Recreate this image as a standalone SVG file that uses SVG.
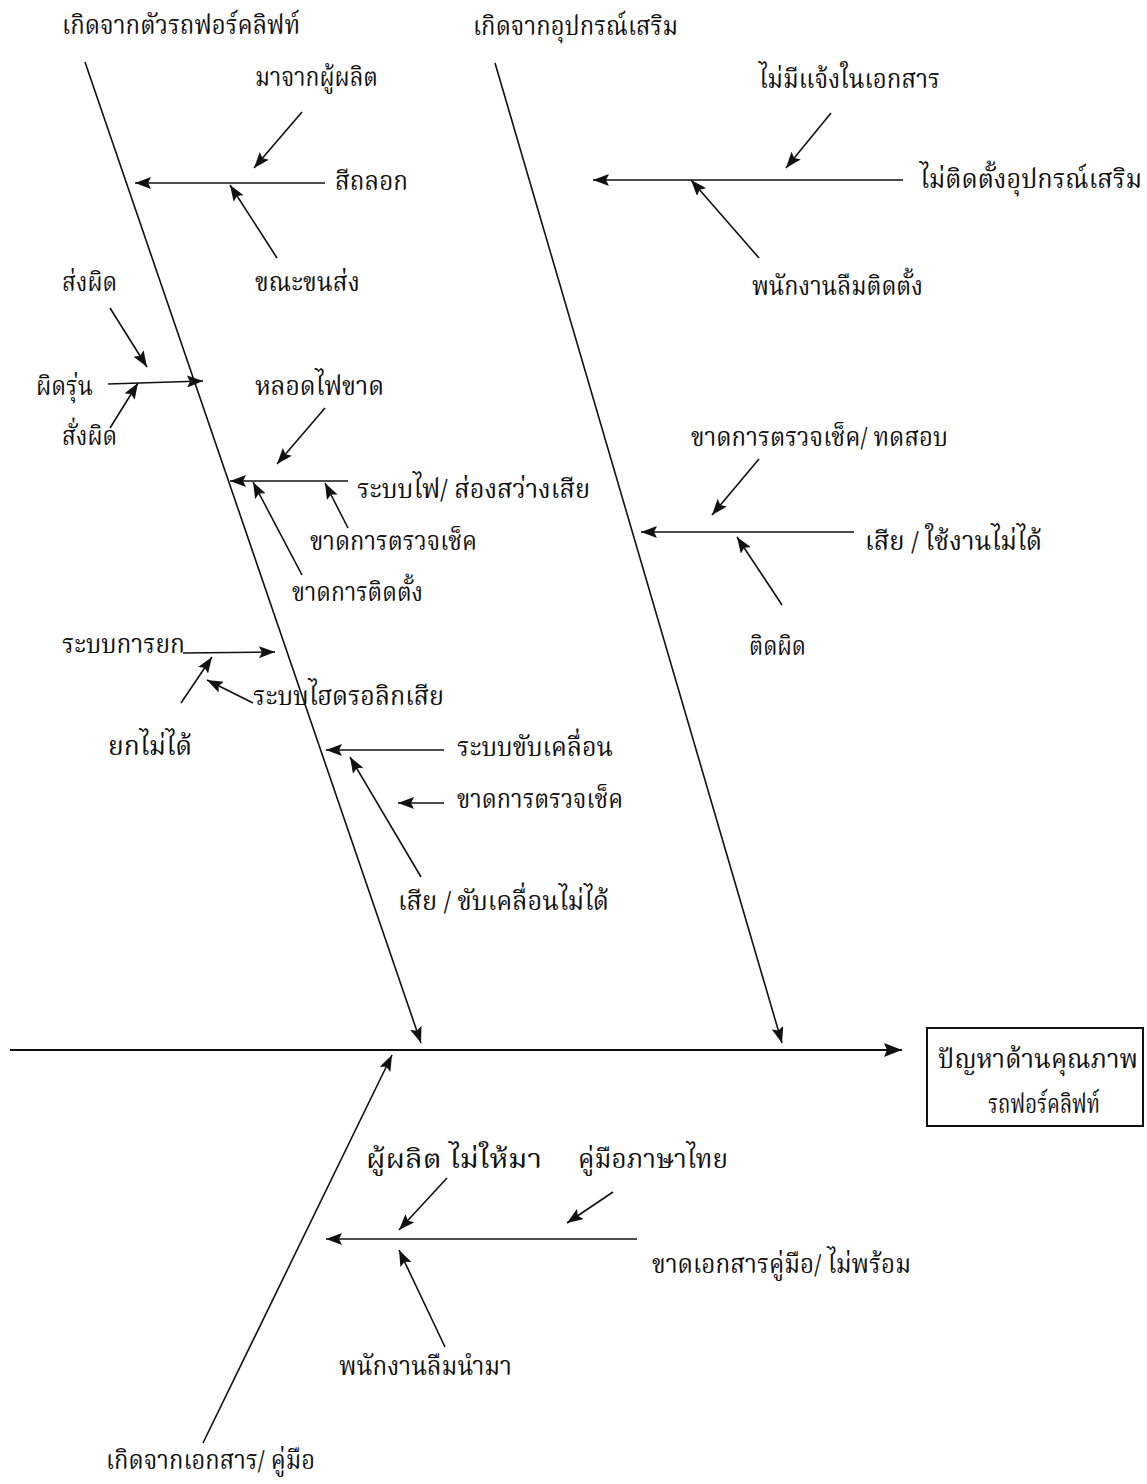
<svg xmlns="http://www.w3.org/2000/svg" width="1147" height="1484" viewBox="0 0 1147 1484">
<style>
  .t { font-family: "Noto Serif Thai", "Noto Sans Thai", "Loma", "Norasi", "Garuda", "Noto Sans", "DejaVu Sans", serif; font-size: 26px; fill: #111; }
  .c { stroke: #111; stroke-width: 1.6; fill: none; marker-end: url(#ah); }
  .spine { stroke: #111; stroke-width: 2.2; fill: none; marker-end: url(#ah2); }
  .box { fill: #fff; stroke: #111; stroke-width: 2; }
</style>
<defs>
  <marker id="ah" viewBox="0 0 16 12" refX="16" refY="6" markerWidth="16" markerHeight="12" orient="auto" markerUnits="userSpaceOnUse">
    <path d="M0,0 L16,6 L0,12 L3,6 z" fill="#111"/>
  </marker>
  <marker id="ah2" viewBox="0 0 18 14" refX="18" refY="7" markerWidth="18" markerHeight="14" orient="auto" markerUnits="userSpaceOnUse">
    <path d="M0,0 L18,7 L0,14 L3,7 z" fill="#111"/>
  </marker>
</defs>
<rect width="1147" height="1484" fill="#fff"/>

<g id="connectors">
  <line class="spine" x1="10" y1="1050" x2="902" y2="1050"/>
  <line class="c" x1="85" y1="62" x2="421" y2="1043"/>
  <line class="c" x1="495" y1="63" x2="782" y2="1043"/>
  <line class="c" x1="203" y1="1443" x2="392" y2="1055"/>

  <line class="c" x1="325" y1="183" x2="135" y2="183"/>
  <line class="c" x1="302" y1="112" x2="254" y2="168"/>
  <line class="c" x1="277" y1="258" x2="230" y2="185"/>
  <line class="c" x1="108" y1="384" x2="203" y2="381"/>
  <line class="c" x1="110" y1="308" x2="147" y2="367"/>
  <line class="c" x1="110" y1="428" x2="138" y2="383"/>
  <line class="c" x1="325" y1="408" x2="277" y2="464"/>
  <line class="c" x1="348" y1="481" x2="230" y2="481"/>
  <line class="c" x1="348" y1="528" x2="325" y2="483"/>
  <line class="c" x1="302" y1="575" x2="253" y2="482"/>
  <line class="c" x1="183" y1="653" x2="275" y2="652"/>
  <line class="c" x1="181" y1="703" x2="212" y2="657"/>
  <line class="c" x1="253" y1="703" x2="207" y2="680"/>
  <line class="c" x1="444" y1="750" x2="326" y2="750"/>
  <line class="c" x1="444" y1="803" x2="398" y2="803"/>
  <line class="c" x1="421" y1="877" x2="350" y2="757"/>

  <line class="c" x1="903" y1="180" x2="593" y2="180"/>
  <line class="c" x1="831" y1="113" x2="786" y2="168"/>
  <line class="c" x1="759" y1="258" x2="691" y2="180"/>
  <line class="c" x1="854" y1="532" x2="641" y2="532"/>
  <line class="c" x1="759" y1="459" x2="712" y2="515"/>
  <line class="c" x1="782" y1="605" x2="737" y2="537"/>

  <line class="c" x1="637" y1="1239" x2="326" y2="1239"/>
  <line class="c" x1="447" y1="1178" x2="399" y2="1230"/>
  <line class="c" x1="613" y1="1192" x2="567" y2="1223"/>
  <line class="c" x1="445" y1="1347" x2="399" y2="1250"/>
</g>

<g id="cat-forklift"><text class="t" x="62" y="34" textLength="238" lengthAdjust="spacingAndGlyphs">เกิดจากตัวรถฟอร์คลิฟท์</text></g>
<g id="cat-accessory"><text class="t" x="473" y="35" textLength="205" lengthAdjust="spacingAndGlyphs">เกิดจากอุปกรณ์เสริม</text></g>
<g id="cat-document"><text class="t" x="106" y="1469" textLength="209" lengthAdjust="spacingAndGlyphs">เกิดจากเอกสาร/ คู่มือ</text></g>

<g id="n-paint"><text class="t" x="335" y="190" textLength="73" lengthAdjust="spacingAndGlyphs">สีถลอก</text></g>
<g id="n-maker"><text class="t" x="255" y="86" textLength="123" lengthAdjust="spacingAndGlyphs">มาจากผู้ผลิต</text></g>
<g id="n-transport"><text class="t" x="255" y="291" textLength="105" lengthAdjust="spacingAndGlyphs">ขณะขนส่ง</text></g>
<g id="n-wrongsend"><text class="t" x="62" y="291" textLength="55" lengthAdjust="spacingAndGlyphs">ส่งผิด</text></g>
<g id="n-wrongmodel"><text class="t" x="36" y="395" textLength="57" lengthAdjust="spacingAndGlyphs">ผิดรุ่น</text></g>
<g id="n-wrongorder"><text class="t" x="62" y="445" textLength="55" lengthAdjust="spacingAndGlyphs">สั่งผิด</text></g>
<g id="n-bulb"><text class="t" x="255" y="395" textLength="129" lengthAdjust="spacingAndGlyphs">หลอดไฟขาด</text></g>
<g id="n-light"><text class="t" x="357" y="498" textLength="233" lengthAdjust="spacingAndGlyphs">ระบบไฟ/ ส่องสว่างเสีย</text></g>
<g id="n-nocheck1"><text class="t" x="310" y="550" textLength="167" lengthAdjust="spacingAndGlyphs">ขาดการตรวจเช็ค</text></g>
<g id="n-noinstall"><text class="t" x="292" y="601" textLength="131" lengthAdjust="spacingAndGlyphs">ขาดการติดตั้ง</text></g>
<g id="n-lift"><text class="t" x="62" y="653" textLength="123" lengthAdjust="spacingAndGlyphs">ระบบการยก</text></g>
<g id="n-hydraulic"><text class="t" x="253" y="705" textLength="191" lengthAdjust="spacingAndGlyphs">ระบบไฮดรอลิกเสีย</text></g>
<g id="n-cantlift"><text class="t" x="108" y="755" textLength="84" lengthAdjust="spacingAndGlyphs">ยกไม่ได้</text></g>
<g id="n-drive"><text class="t" x="457" y="756" textLength="156" lengthAdjust="spacingAndGlyphs">ระบบขับเคลื่อน</text></g>
<g id="n-nocheck2"><text class="t" x="457" y="808" textLength="166" lengthAdjust="spacingAndGlyphs">ขาดการตรวจเช็ค</text></g>
<g id="n-cantdrive"><text class="t" x="398" y="910" textLength="211" lengthAdjust="spacingAndGlyphs">เสีย / ขับเคลื่อนไม่ได้</text></g>

<g id="n-noaccessory"><text class="t" x="920" y="188" textLength="222" lengthAdjust="spacingAndGlyphs">ไม่ติดตั้งอุปกรณ์เสริม</text></g>
<g id="n-notindoc"><text class="t" x="759" y="88" textLength="181" lengthAdjust="spacingAndGlyphs">ไม่มีแจ้งในเอกสาร</text></g>
<g id="n-forgotinstall"><text class="t" x="752" y="295" textLength="171" lengthAdjust="spacingAndGlyphs">พนักงานลืมติดตั้ง</text></g>
<g id="n-broken"><text class="t" x="865" y="550" textLength="177" lengthAdjust="spacingAndGlyphs">เสีย / ใช้งานไม่ได้</text></g>
<g id="n-nocheck3"><text class="t" x="691" y="446" textLength="257" lengthAdjust="spacingAndGlyphs">ขาดการตรวจเช็ค/ ทดสอบ</text></g>
<g id="n-wrongfit"><text class="t" x="749" y="655" textLength="57" lengthAdjust="spacingAndGlyphs">ติดผิด</text></g>

<g id="n-nomanual"><text class="t" x="652" y="1273" textLength="259" lengthAdjust="spacingAndGlyphs">ขาดเอกสารคู่มือ/ ไม่พร้อม</text></g>
<g id="n-makernot"><text class="t" x="366" y="1168" textLength="176" lengthAdjust="spacingAndGlyphs">ผู้ผลิต ไม่ให้มา</text></g>
<g id="n-thaimanual"><text class="t" x="578" y="1168" textLength="150" lengthAdjust="spacingAndGlyphs">คู่มือภาษาไทย</text></g>
<g id="n-forgotbring"><text class="t" x="339" y="1375" textLength="173" lengthAdjust="spacingAndGlyphs">พนักงานลืมนำมา</text></g>

<g id="effect">
  <rect class="box" x="927" y="1028" width="216" height="98"/>
  <text class="t" x="938" y="1068" textLength="200" lengthAdjust="spacingAndGlyphs">ปัญหาด้านคุณภาพ</text>
  <text class="t" x="988" y="1113" textLength="112" lengthAdjust="spacingAndGlyphs">รถฟอร์คลิฟท์</text>
</g>
</svg>
